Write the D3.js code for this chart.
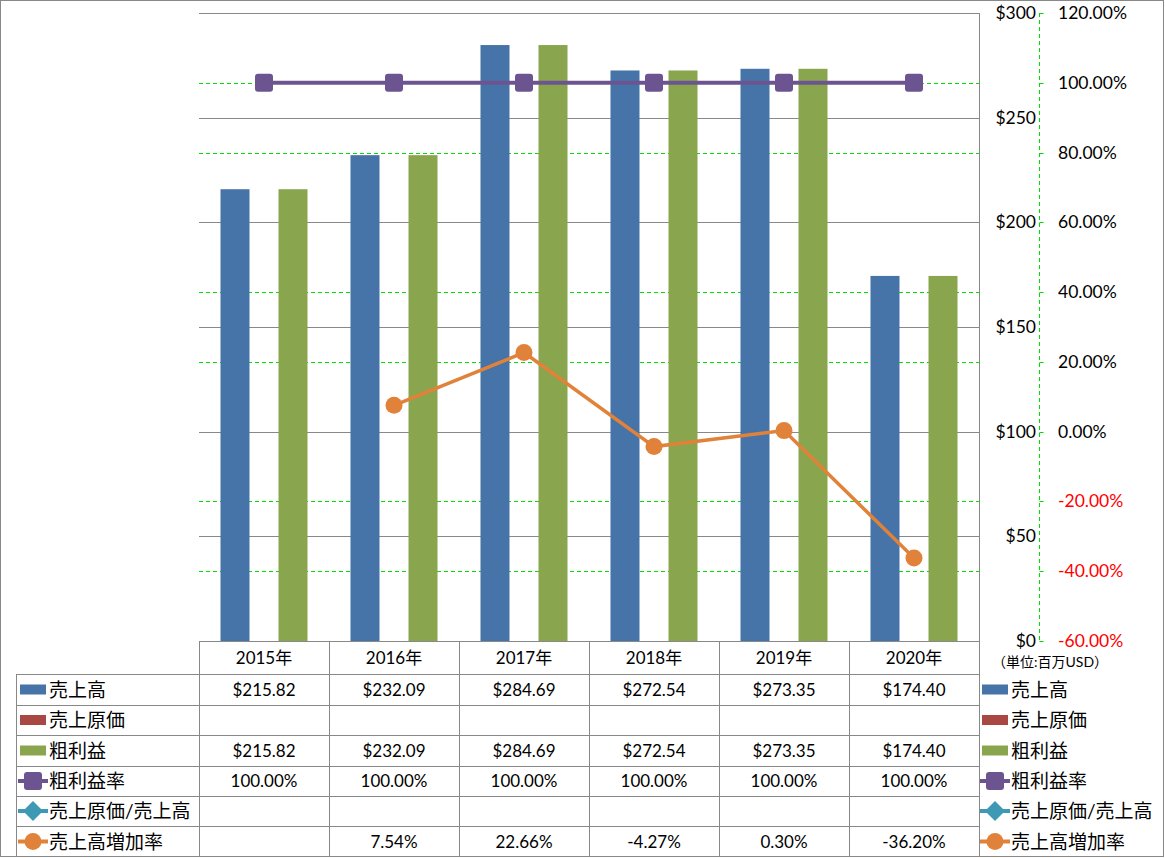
<!DOCTYPE html>
<html><head><meta charset="utf-8">
<script src="https://cdn.jsdelivr.net/npm/d3@7"></script>
<style>
body{margin:0;background:#fff;}
svg text{font-family:"Lato","Noto Sans CJK JP",sans-serif;fill:#000;}
</style></head>
<body><svg id="c" width="1165" height="858"></svg>
<script>
const years = ["2015年","2016年","2017年","2018年","2019年","2020年"];
const seriesNames = ["売上高","売上原価","粗利益","粗利益率","売上原価/売上高","売上高増加率"];
const sales = [215.82, 232.09, 284.69, 272.54, 273.35, 174.40];
const cogs = [null, null, null, null, null, null];
const grossProfit = [215.82, 232.09, 284.69, 272.54, 273.35, 174.40];
const grossMargin = [1.0, 1.0, 1.0, 1.0, 1.0, 1.0];
const cogsRatio = [null, null, null, null, null, null];
const salesGrowth = [null, 0.0754, 0.2266, -0.0427, 0.0030, -0.3620];
const leftTicks = [0, 50, 100, 150, 200, 250, 300];
const rightTicks = [-0.6, -0.4, -0.2, 0, 0.2, 0.4, 0.6, 0.8, 1.0, 1.2];

const colors = {"売上高":"#4673a8","売上原価":"#a94744","粗利益":"#89a54e","粗利益率":"#6c5490","売上原価/売上高":"#3e9ab4","売上高増加率":"#e0823a"};
const svg = d3.select("#c");
const L = 199, R = 979, T = 13, B = 641;
const x = d3.scaleBand().domain(years).range([L, R]);
const xs = d3.scaleBand().domain(["売上高","売上原価","粗利益"]).range([0, x.bandwidth()]).paddingOuter(0.741);
const yL = d3.scaleLinear().domain([0, 300]).range([B, T]);
const yR = d3.scaleLinear().domain([-0.6, 1.2]).range([B, T]);
const grid = "#888888";
const green = "#00e000";
const pctFmt = d=>d3.format(".2%")(d).replace("\u2212","-");

// outer border
svg.append("rect").attr("x",0.5).attr("y",0.5).attr("width",1163).attr("height",856).attr("fill","none").attr("stroke",grid);

// green dashed grid (right axis)
svg.append("g").selectAll("line").data(rightTicks.filter(t=>t!==1.2 && t!==-0.6)).join("line")
  .attr("x1",L).attr("x2",R).attr("y1",d=>Math.round(yR(d))+0.5).attr("y2",d=>Math.round(yR(d))+0.5)
  .attr("stroke",green).attr("stroke-dasharray","4,3");
// gray grid (left axis)
svg.append("g").selectAll("line").data(leftTicks).join("line")
  .attr("x1",L).attr("x2",R).attr("y1",d=>Math.round(yL(d))+0.5).attr("y2",d=>Math.round(yL(d))+0.5)
  .attr("stroke",grid);

// bars
const barSeries = [["売上高",sales],["売上原価",cogs],["粗利益",grossProfit]];
barSeries.forEach(([name, vals])=>{
  svg.append("g").selectAll("rect").data(vals.map((v,i)=>({v,y:years[i]})).filter(d=>d.v!=null)).join("rect")
    .attr("x",d=>x(d.y)+xs(name)).attr("width",xs.bandwidth())
    .attr("y",d=>yL(d.v)).attr("height",d=>yL(0)-yL(d.v)).attr("fill",colors[name]);
});

// lines
const cx = d=>x(d.y)+x.bandwidth()/2;
function lineSeries(name, vals, width){
  const pts = vals.map((v,i)=>({v,y:years[i]})).filter(d=>d.v!=null);
  svg.append("path").datum(pts).attr("fill","none").attr("stroke",colors[name]).attr("stroke-width",width)
    .attr("d",d3.line().x(cx).y(d=>yR(d.v)));
  return pts;
}
const gmPts = lineSeries("粗利益率", grossMargin, 4);
svg.append("g").selectAll("rect").data(gmPts).join("rect")
  .attr("x",d=>cx(d)-9).attr("y",d=>yR(d.v)-9).attr("width",18).attr("height",18).attr("rx",3)
  .attr("fill",colors["粗利益率"]);
const grPts = lineSeries("売上高増加率", salesGrowth, 3.5);
svg.append("g").selectAll("circle").data(grPts).join("circle")
  .attr("cx",cx).attr("cy",d=>yR(d.v)).attr("r",8.5).attr("fill",colors["売上高増加率"]);

// right vertical border of plot
svg.append("line").attr("x1",R+0.5).attr("x2",R+0.5).attr("y1",T).attr("y2",857).attr("stroke",grid);

// axes on the right
const axX = 1039.5;
svg.append("line").attr("x1",axX).attr("x2",axX).attr("y1",yR(1.2)).attr("y2",yR(-0.6)).attr("stroke",green).attr("stroke-dasharray","4,3");
svg.append("g").selectAll("line").data(rightTicks).join("line")
  .attr("x1",axX).attr("x2",axX+4).attr("y1",d=>Math.round(yR(d))+0.5).attr("y2",d=>Math.round(yR(d))+0.5).attr("stroke",green);
svg.append("g").selectAll("text").data(leftTicks).join("text")
  .attr("x",1036).attr("y",d=>yL(d)+6).attr("text-anchor","end").attr("font-size",17.5)
  .text(d=>"$"+d);
svg.append("g").selectAll("text").data(rightTicks).join("text")
  .attr("x",1058).attr("y",d=>yR(d)+6).attr("font-size",17.5)
  .style("fill",d=>d<0?"#ff0000":"#000")
  .text(pctFmt);
svg.append("text").attr("x",992).attr("y",667).attr("font-size",14).text("（単位:百万USD）");

// data table
const rowTop = [674, 705, 735, 766, 796, 826, 857];
const tg = svg.append("g");
years.forEach((yv,i)=>{
  tg.append("line").attr("x1",x(yv)+0.5).attr("x2",x(yv)+0.5).attr("y1",B).attr("y2",857).attr("stroke",grid);
  tg.append("text").attr("x",x(yv)+x.bandwidth()/2).attr("y",664).attr("text-anchor","middle").attr("font-size",17).text(yv);
});
rowTop.slice(0,6).forEach(y=>{
  tg.append("line").attr("x1",16).attr("x2",R).attr("y1",y+0.5).attr("y2",y+0.5).attr("stroke",grid);
});
tg.append("line").attr("x1",16.5).attr("x2",16.5).attr("y1",674).attr("y2",857).attr("stroke",grid);

const money = d=>d==null?"":"$"+d3.format(".2f")(d);
const pct = d=>d==null?"":pctFmt(d);
const rows = [[sales,money],[cogs,money],[grossProfit,money],[grossMargin,pct],[cogsRatio,pct],[salesGrowth,pct]];
rows.forEach(([vals,fmt],r)=>{
  const yc = (rowTop[r]+rowTop[r+1])/2;
  vals.forEach((v,i)=>{
    tg.append("text").attr("x",x(years[i])+x.bandwidth()/2).attr("y",yc+6).attr("text-anchor","middle").attr("font-size",17).text(fmt(v));
  });
});

function legendItem(g, name, idx, lx, yc){
  const c = colors[name];
  if(idx<3){
    g.append("rect").attr("x",lx).attr("y",yc-5).attr("width",26).attr("height",10).attr("fill",c);
  } else {
    g.append("line").attr("x1",lx-2).attr("x2",lx+28).attr("y1",yc).attr("y2",yc).attr("stroke",c).attr("stroke-width",4);
    const mx = lx+13;
    if(idx===3) g.append("rect").attr("x",mx-9).attr("y",yc-9).attr("width",18).attr("height",18).attr("rx",3).attr("fill",c);
    else if(idx===4) g.append("path").attr("d",`M${mx},${yc-10}L${mx+10},${yc}L${mx},${yc+10}L${mx-10},${yc}Z`).attr("fill",c);
    else g.append("circle").attr("cx",mx).attr("cy",yc).attr("r",8.5).attr("fill",c);
  }
  g.append("text").attr("x",lx+29).attr("y",yc+7).attr("font-size",19).text(name);
}
seriesNames.forEach((n,i)=>{
  const yc = (rowTop[i]+rowTop[i+1])/2;
  legendItem(tg, n, i, 20, yc);
  legendItem(tg, n, i, 982, yc);
});
</script></body></html>
